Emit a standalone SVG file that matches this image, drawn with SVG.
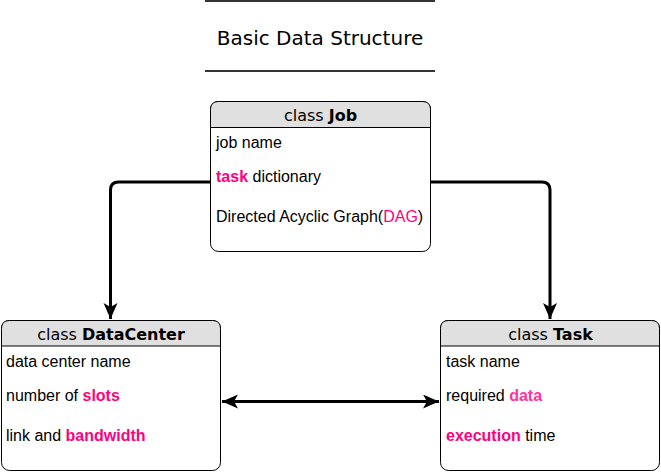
<svg xmlns="http://www.w3.org/2000/svg" width="661" height="473" viewBox="0 0 661 473">
<style>
.box{fill:#ffffff;stroke:#000000;stroke-width:1}
.hdr{fill:#e0e0e0;stroke:#000000;stroke-width:1}
.htxt{font-family:"DejaVu Sans",Verdana,sans-serif;font-size:16px;fill:#000000;text-anchor:middle}
.btxt{font-family:"Liberation Sans",Arial,Helvetica,sans-serif;font-size:16px;fill:#000000}
.pk{fill:#ff0080}
.pk2{fill:#ff3399}
.b{font-weight:bold}
.title{font-family:"DejaVu Sans",Verdana,sans-serif;font-size:20px;fill:#000000;text-anchor:middle}
.conn{fill:none;stroke:#000000;stroke-width:3}
</style>
<defs>
<marker id="arr" markerUnits="userSpaceOnUse" markerWidth="18" markerHeight="16" refX="16" refY="7" orient="auto-start-reverse" viewBox="0 0 18 16">
<path d="M0,0 L16,7 L0,14 L4,7 z" fill="#000000"/>
</marker>
</defs>
<g id="title">
<line x1="205" y1="1" x2="435" y2="1" stroke="#333333" stroke-width="2"/>
<line x1="205" y1="71" x2="435" y2="71" stroke="#333333" stroke-width="2"/>
<text class="title" x="320" y="45">Basic Data Structure</text>
</g>
<g id="connectors">
<path class="conn" d="M210.5,182 L118.5,182 Q110.5,182 110.5,190 L110.5,319" marker-end="url(#arr)"/>
<path class="conn" d="M430.5,182 L542,182 Q550,182 550,190 L550,319" marker-end="url(#arr)"/>
<path class="conn" d="M222,401.5 L439,401.5" marker-start="url(#arr)" marker-end="url(#arr)"/>
</g>
<g id="job">
<rect class="box" x="210.5" y="101.5" width="220" height="150" rx="8"/>
<path class="hdr" d="M210.5,127.5 L210.5,109.5 Q210.5,101.5 218.5,101.5 L422.5,101.5 Q430.5,101.5 430.5,109.5 L430.5,127.5 Z"/>
<text class="htxt" x="320.5" y="121">class <tspan class="b">Job</tspan></text>
<text class="btxt" x="216" y="148">job name</text>
<text class="btxt" x="216" y="182"><tspan class="pk b">task</tspan> dictionary</text>
<text class="btxt" x="216" y="222">Directed Acyclic Graph(<tspan class="pk">DAG</tspan>)</text>
</g>
<g id="datacenter">
<rect class="box" x="1.5" y="320.5" width="219" height="150" rx="8"/>
<path class="hdr" d="M1.5,346 L1.5,328.5 Q1.5,320.5 9.5,320.5 L212.5,320.5 Q220.5,320.5 220.5,328.5 L220.5,346 Z"/>
<text class="htxt" x="111" y="340">class <tspan class="b">DataCenter</tspan></text>
<text class="btxt" x="6" y="367">data center name</text>
<text class="btxt" x="6" y="401">number of <tspan class="pk b">slots</tspan></text>
<text class="btxt" x="6" y="441">link and <tspan class="pk b">bandwidth</tspan></text>
</g>
<g id="task">
<rect class="box" x="440.5" y="320.5" width="219" height="150" rx="8"/>
<path class="hdr" d="M440.5,346 L440.5,328.5 Q440.5,320.5 448.5,320.5 L651.5,320.5 Q659.5,320.5 659.5,328.5 L659.5,346 Z"/>
<text class="htxt" x="550.5" y="340">class <tspan class="b">Task</tspan></text>
<text class="btxt" x="446" y="367">task name</text>
<text class="btxt" x="446" y="401">required <tspan class="pk2 b">data</tspan></text>
<text class="btxt" x="446" y="441"><tspan class="pk b">execution</tspan> time</text>
</g>
</svg>
